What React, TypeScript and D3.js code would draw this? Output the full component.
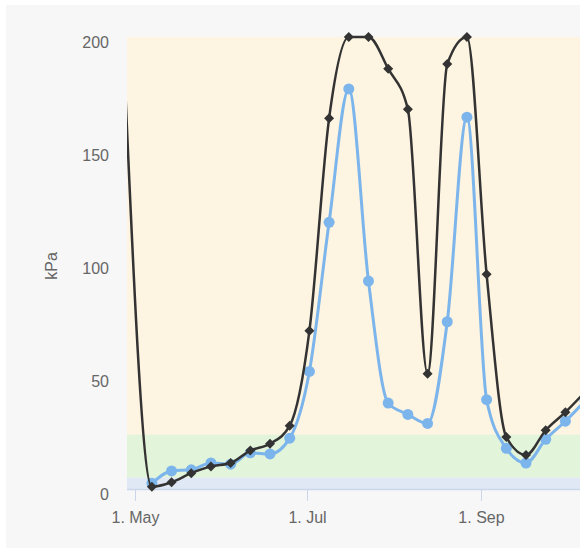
import React from "react";
import * as d3 from "d3";

const blackDates = ["2015-04-27","2015-05-07","2015-05-14","2015-05-21","2015-05-28","2015-06-04","2015-06-11","2015-06-18","2015-06-25","2015-07-02","2015-07-09","2015-07-16","2015-07-23","2015-07-30","2015-08-06","2015-08-13","2015-08-20","2015-08-27","2015-09-03","2015-09-10","2015-09-17","2015-09-24","2015-10-01","2015-10-08"];
const blackValues = [192, 1, 3, 7, 10, 11.5, 17, 20, 28, 70, 164, 200, 200, 186, 168, 51, 188, 200, 95, 23, 15, 26, 34, 43];
const blueDates = ["2015-05-07","2015-05-14","2015-05-21","2015-05-28","2015-06-04","2015-06-11","2015-06-18","2015-06-25","2015-07-02","2015-07-09","2015-07-16","2015-07-23","2015-07-30","2015-08-06","2015-08-13","2015-08-20","2015-08-27","2015-09-03","2015-09-10","2015-09-17","2015-09-24","2015-10-01","2015-10-08"];
const blueValues = [2.5, 8, 8.5, 11.5, 11, 16, 15.5, 22.5, 52, 118, 177, 92, 38, 33, 29, 74, 164.5, 39.5, 18, 11.5, 22, 30, 39];
const yTicks = [0, 50, 100, 150, 200];
const xTickDates = ["2015-05-01", "2015-07-01", "2015-09-01"];
const xTickLabels = ["1. May", "1. Jul", "1. Sep"];
const bands = [
  { from: 24, to: 200, color: "#fdf4e1" },
  { from: 5, to: 24, color: "#e2f4d9" },
  { from: 0, to: 5, color: "#dfe8f4" },
];

const parse = (s: string) => new Date(s + "T00:00:00Z");

export default function App() {
  const W = 580, H = 548;
  const plotLeft = 127, plotRight = 600, plotTop = 37, plotBottom = 489;
  const x = d3.scaleUtc().domain([parse("2015-05-01"), parse("2015-09-01")]).range([135, 481]);
  const y = d3.scaleLinear().domain([0, 200]).range([plotBottom, plotTop]);

  const blackPts = blackDates.map((d, i) => [x(parse(d)), y(blackValues[i])] as [number, number]);
  const bluePts = blueDates.map((d, i) => [x(parse(d)), y(blueValues[i])] as [number, number]);
  const line = d3.line().curve(d3.curveMonotoneX);
  const font = "'Liberation Sans', Arial, sans-serif";

  return (
    <svg width={W} height={H} style={{ position: "absolute", left: 0, top: 0, background: "#fff" }}>
      <defs>
        <clipPath id="lineclip">
          <rect x={plotLeft} y={0} width={plotRight - plotLeft} height={plotBottom + 5} />
        </clipPath>
      </defs>
      <rect x={6} y={5} width={W - 6} height={H - 5} fill="#f7f7f7" />
      {bands.map((b, i) => (
        <rect key={i} x={plotLeft} y={y(b.to)} width={plotRight - plotLeft} height={y(b.from) - y(b.to)} fill={b.color} />
      ))}
      <line x1={plotLeft} x2={plotRight} y1={plotBottom + 0.5} y2={plotBottom + 0.5} stroke="#ccd6eb" strokeWidth={1.5} />
      {xTickDates.map((d, i) => {
        const xx = Math.round(x(parse(d))) + 0.5;
        return (
          <g key={d}>
            <line x1={xx} x2={xx} y1={plotBottom} y2={plotBottom + 12} stroke="#ccd6eb" strokeWidth={1} />
            <text x={xx} y={523} textAnchor="middle" fontFamily={font} fontSize={16} fill="#666">{xTickLabels[i]}</text>
          </g>
        );
      })}
      {yTicks.map((t) => (
        <text key={t} x={109} y={y(t) + 11} textAnchor="end" fontFamily={font} fontSize={16} fill="#666">{t}</text>
      ))}
      <text transform={`translate(57,266) rotate(-90)`} textAnchor="middle" fontFamily={font} fontSize={16} fill="#666">kPa</text>
      <g clipPath="url(#lineclip)">
        <path d={line(bluePts) || ""} fill="none" stroke="#7cb5ec" strokeWidth={3} />
        {bluePts.filter((p) => p[0] >= plotLeft).map((p, i) => (
          <circle key={i} cx={p[0]} cy={p[1]} r={5.5} fill="#7cb5ec" />
        ))}
        <path d={line(blackPts) || ""} fill="none" stroke="#333" strokeWidth={2.5} />
        {blackPts.filter((p) => p[0] >= plotLeft).map((p, i) => (
          <path key={i} d={`M${p[0]},${p[1] - 5}L${p[0] + 5},${p[1]}L${p[0]},${p[1] + 5}L${p[0] - 5},${p[1]}Z`} fill="#333" />
        ))}
      </g>
    </svg>
  );
}
